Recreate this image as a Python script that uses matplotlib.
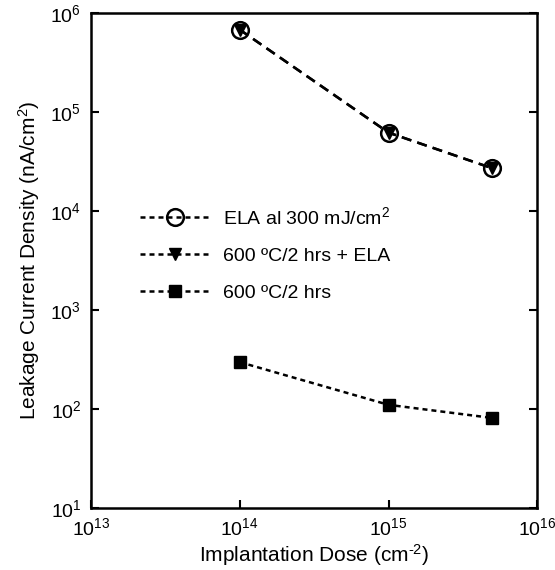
import matplotlib
matplotlib.use("Agg")
import matplotlib.pyplot as plt
from matplotlib.ticker import LogLocator, LogFormatterSciNotation, NullLocator

plt.rcParams["font.family"] = ["Liberation Sans", "DejaVu Sans"]
plt.rcParams["mathtext.fontset"] = "custom"
plt.rcParams["mathtext.rm"] = "Liberation Sans"
plt.rcParams["mathtext.default"] = "regular"

# Datos
dosis = [1e14, 1e15, 5e15]
ela_300 = [6.8e5, 6.2e4, 2.7e4]
ela_600 = [6.8e5, 6.2e4, 2.7e4]
solo_600 = [297, 110, 81]

etiquetas = ["ELA al 300 mJ/cm$^2$", "600 ºC/2 hrs + ELA", "600 ºC/2 hrs"]

fig = plt.figure(figsize=(5.55, 5.70), dpi=100)
ax = fig.add_axes([0.164, 0.109, 0.804, 0.868])

ax.plot(dosis, ela_300, color="black", lw=1.8, ls=(0, (4, 2.5)),
        marker="o", ms=12, mfc="none", mec="black", mew=1.8, label=etiquetas[0])
ax.plot(dosis, ela_600, color="black", lw=1.8, ls=(0, (4, 2.5)),
        marker="v", ms=8, mfc="black", mec="black", label=etiquetas[1])
ax.plot(dosis, solo_600, color="black", lw=1.8, ls=(0, (2, 1.6)),
        marker="s", ms=8, mfc="black", mec="black", label=etiquetas[2])

ax.set_xscale("log")
ax.set_yscale("log")
ax.set_xlim(1e13, 1e16)
ax.set_ylim(1e1, 1e6)
ax.xaxis.set_major_locator(LogLocator(base=10, numticks=10))
ax.yaxis.set_major_locator(LogLocator(base=10, numticks=10))
ax.xaxis.set_minor_locator(NullLocator())
ax.yaxis.set_minor_locator(NullLocator())
ax.xaxis.set_major_formatter(LogFormatterSciNotation())
ax.yaxis.set_major_formatter(LogFormatterSciNotation())

ax.tick_params(direction="in", length=6, width=1.5, labelsize=14, pad=7,
               right=True, top=False)
for s in ax.spines.values():
    s.set_linewidth(1.8)

ax.set_xlabel("Implantation Dose (cm$^{\\text{-}2}$)", fontsize=15, labelpad=2)
ax.set_ylabel("Leakage Current Density (nA/cm$^2$)", fontsize=15, labelpad=6)

leg = ax.legend(loc="upper left", bbox_to_anchor=(0.07, 0.645), frameon=False,
                fontsize=14, handlelength=3.6, labelspacing=1.0, handletextpad=0.7)
for h in leg.legend_handles:
    h.set_linestyle((0, (2, 1.6)))

fig.savefig("out.png", dpi=100)
